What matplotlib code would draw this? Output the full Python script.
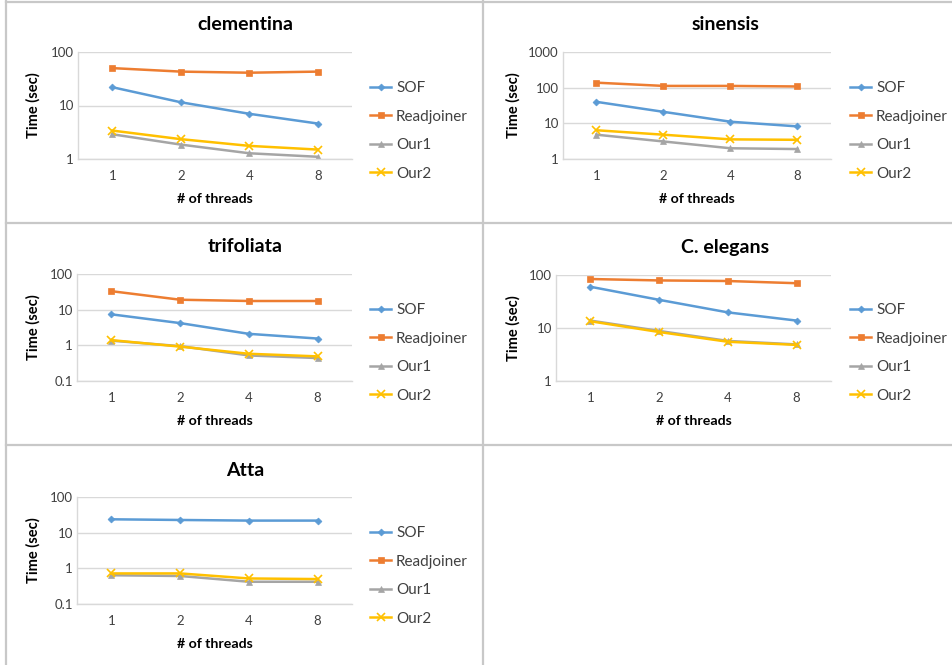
import numpy as np
import matplotlib
matplotlib.use('Agg')
import matplotlib.pyplot as plt
from matplotlib.lines import Line2D

plt.rcParams['font.family'] = ['Lato', 'DejaVu Sans']

threads = ['1', '2', '4', '8']
series_names = ['SOF', 'Readjoiner', 'Our1', 'Our2']

# timings (sec)
clementina_sof = [22, 11.5, 7.0, 4.6]
clementina_rj = [50, 43, 41, 43]
clementina_our1 = [2.9, 1.86, 1.28, 1.1]
clementina_our2 = [3.4, 2.35, 1.76, 1.5]

sinensis_sof = [40, 21, 11.1, 8.2]
sinensis_rj = [138, 112, 112, 108]
sinensis_our1 = [4.8, 3.1, 2.0, 1.9]
sinensis_our2 = [6.4, 4.8, 3.55, 3.45]

trifoliata_sof = [7.4, 4.2, 2.1, 1.55]
trifoliata_rj = [33, 19, 17.5, 17.5]
trifoliata_our1 = [1.35, 0.95, 0.52, 0.44]
trifoliata_our2 = [1.4, 0.92, 0.58, 0.49]

elegans_sof = [60, 34, 19.7, 13.8]
elegans_rj = [84, 79, 77, 70]
elegans_our1 = [13.8, 8.8, 5.7, 4.9]
elegans_our2 = [13.4, 8.4, 5.5, 4.8]

atta_sof = [23.7, 22.7, 21.8, 21.8]
atta_rj = [np.nan, np.nan, np.nan, np.nan]
atta_our1 = [0.64, 0.61, 0.42, 0.42]
atta_our2 = [0.72, 0.72, 0.52, 0.50]

titles = ['clementina', 'sinensis', 'trifoliata', 'C. elegans', 'Atta']
ylims = [(1, 100), (1, 1000), (0.1, 100), (1, 100), (0.1, 100)]
data = [
    [clementina_sof, clementina_rj, clementina_our1, clementina_our2],
    [sinensis_sof, sinensis_rj, sinensis_our1, sinensis_our2],
    [trifoliata_sof, trifoliata_rj, trifoliata_our1, trifoliata_our2],
    [elegans_sof, elegans_rj, elegans_our1, elegans_our2],
    [atta_sof, atta_rj, atta_our1, atta_our2],
]

colors = ['#5B9BD5', '#ED7D31', '#A5A5A5', '#FFC000']
markers = ['D', 's', '^', 'x']
msizes = [3.5, 5, 5, 5.5]

W, H = 953, 665
fig = plt.figure(figsize=(W / 100, H / 100), dpi=100)

# cell origins (px) and plot area inside each cell (left, right, top, bottom)
cells = [(0, 0), (480, 0), (0, 222), (480, 222), (0, 445)]
areas = [(78, 352, 52, 159), (83, 351, 52, 159), (77, 352, 52, 159),
         (76, 351, 53, 159), (77, 352, 52, 159)]


def fx(px):
    return px / W


def fy(py):
    return 1 - py / H


for i in range(5):
    cx, cy = cells[i]
    l, r, t, b = areas[i]
    ax = fig.add_axes([fx(cx + l), fy(cy + b), (r - l) / W, (b - t) / H])
    x = np.arange(len(threads))
    for k in range(4):
        ax.plot(x, data[i][k], color=colors[k], marker=markers[k], markersize=msizes[k],
                linewidth=1.8, label=series_names[k], markeredgewidth=1.2 if k == 3 else 0.5,
                markeredgecolor=colors[k])
    ax.set_yscale('log')
    ax.set_ylim(*ylims[i])
    ax.set_xlim(-0.5, 3.5)
    ax.set_xticks(x)
    ax.set_xticklabels(threads)
    lo, hi = ylims[i]
    decades = [lo * 10 ** j for j in range(int(round(np.log10(hi / lo))) + 1)]
    ax.set_yticks(decades)
    ax.set_yticklabels(['%g' % v for v in decades])
    ax.minorticks_off()
    ax.tick_params(length=0, labelsize=9.5, labelcolor='#404040')
    ax.tick_params(axis='x', pad=8)
    ax.tick_params(axis='y', pad=3)
    ax.grid(axis='y', color='#D9D9D9', linewidth=1)
    ax.set_axisbelow(True)
    for s in ['top', 'right']:
        ax.spines[s].set_visible(False)
    for s in ['left', 'bottom']:
        ax.spines[s].set_color('#D9D9D9')
        ax.spines[s].set_linewidth(1)

    fig.text(fx(cx + 245), fy(cy + 25), titles[i], ha='center', va='center',
             fontsize=14, fontweight='bold', color='black')
    fig.text(fx(cx + (l + r) / 2), fy(cy + 199), '# of threads', ha='center', va='center',
             fontsize=10.2, fontweight='bold', color='black')
    fig.text(fx(cx + 33), fy(cy + (t + b) / 2), 'Time (sec)', ha='center', va='center',
             rotation=90, fontsize=10.5, fontweight='bold', color='black')
    ax.legend(loc='center left', bbox_to_anchor=(fx(cx + 370), fy(cy + 131)),
              bbox_transform=fig.transFigure, frameon=False, fontsize=11,
              labelcolor='#404040', handlelength=1.4, handletextpad=0.3,
              labelspacing=0.95, borderaxespad=0, borderpad=0)

# table borders
border = '#C8C8C8'
for (x0, y0, x1, y1) in [(6, 1.5, 953, 1.5), (6, 1, 6, 665), (483, 1, 483, 665),
                         (6, 223, 953, 223), (6, 445, 953, 445)]:
    fig.add_artist(Line2D([fx(x0), fx(x1)], [fy(y0), fy(y1)], color=border,
                          linewidth=1.6, transform=fig.transFigure))

fig.savefig('out.png', dpi=100)
